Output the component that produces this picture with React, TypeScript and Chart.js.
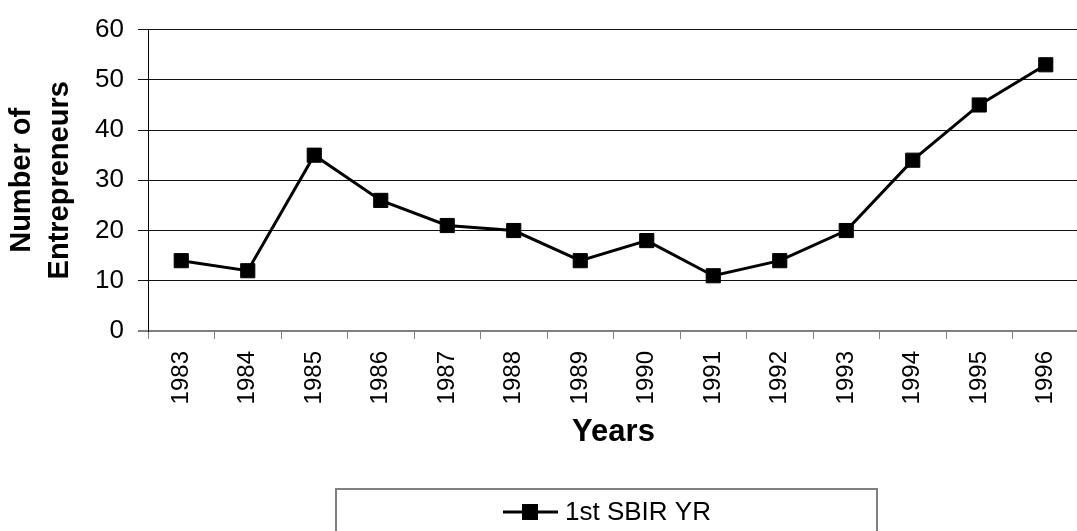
import React, { useEffect, useRef } from "react";
import { Chart, registerables } from "chart.js";

Chart.register(...registerables);

const categories = ["1983", "1984", "1985", "1986", "1987", "1988", "1989", "1990", "1991", "1992", "1993", "1994", "1995", "1996"];
const entrepreneurs = [14, 12, 35, 26, 21, 20, 14, 18, 11, 14, 20, 34, 45, 53];
const seriesLabel = "1st SBIR YR";
const yTitle = ["Number of", "Entrepreneurs"];
const xTitle = "Years";
const yMin = 0;
const yMax = 60;
const yStep = 10;

const FONT = "'Liberation Sans', Arial, Helvetica, sans-serif";

const boxedLegend = {
  id: "boxedLegend",
  afterDraw(chart: any) {
    const ctx = chart.ctx;
    const ds = chart.data.datasets[0];
    ctx.save();
    ctx.strokeStyle = "#808080";
    ctx.lineWidth = 2;
    ctx.strokeRect(336, 489, 541, 80);
    const cy = 512;
    ctx.strokeStyle = ds.borderColor;
    ctx.lineWidth = 3;
    ctx.beginPath();
    ctx.moveTo(503, cy);
    ctx.lineTo(558, cy);
    ctx.stroke();
    ctx.fillStyle = ds.pointBackgroundColor;
    ctx.fillRect(522, cy - 8, 16, 16);
    ctx.fillStyle = "#000";
    ctx.font = `26px ${FONT}`;
    ctx.textAlign = "left";
    ctx.textBaseline = "middle";
    ctx.fillText(ds.label, 565, cy + 1);
    ctx.restore();
  },
};

export default function App() {
  const canvasRef = useRef<HTMLCanvasElement | null>(null);

  useEffect(() => {
    if (!canvasRef.current) return;
    const chart = new Chart(canvasRef.current, {
      type: "line",
      data: {
        labels: categories,
        datasets: [
          {
            label: seriesLabel,
            data: entrepreneurs,
            borderColor: "#000000",
            backgroundColor: "#000000",
            borderWidth: 3,
            pointStyle: "rect",
            pointRadius: 10,
            pointBorderWidth: 1,
            pointBackgroundColor: "#000000",
            pointBorderColor: "#000000",
            tension: 0,
          },
        ],
      },
      options: {
        responsive: false,
        animation: false,
        devicePixelRatio: 1,
        layout: { padding: { left: 0, top: 22, right: 4, bottom: 0 } },
        plugins: {
          legend: { display: false },
          tooltip: { enabled: false },
        },
        scales: {
          x: {
            type: "category",
            offset: true,
            afterFit: (s: any) => {
              s.height = 200;
            },
            grid: {
              offset: true,
              drawOnChartArea: false,
              drawTicks: true,
              tickLength: 8,
              color: "#808080",
              lineWidth: 1,
            },
            border: { display: true, color: "#808080", width: 2 },
            ticks: {
              autoSkip: false,
              minRotation: 90,
              maxRotation: 90,
              padding: 12,
              color: "#000",
              font: { family: FONT, size: 24 },
            },
            title: {
              display: true,
              text: xTitle,
              color: "#000",
              font: { family: FONT, size: 31, weight: "bold" },
              padding: { top: 0, bottom: 80 },
            },
          },
          y: {
            min: yMin,
            max: yMax,
            afterFit: (s: any) => {
              s.width = 148;
            },
            grid: {
              drawOnChartArea: true,
              drawTicks: true,
              tickLength: 10,
              color: (c: any) => (c.tick && c.tick.value === 0 ? "#808080" : "#111111"),
              lineWidth: (c: any) => (c.tick && c.tick.value === 0 ? 2 : 1),
            },
            border: { display: true, color: "#000000", width: 1 },
            ticks: {
              stepSize: yStep,
              padding: 14,
              color: "#000",
              font: { family: FONT, size: 26 },
            },
            title: {
              display: true,
              text: yTitle,
              color: "#000",
              font: { family: FONT, size: 29, weight: "bold", lineHeight: 1.3 },
              padding: { top: 3, bottom: 0 },
            },
          },
        },
      },
      plugins: [boxedLegend],
    });
    return () => chart.destroy();
  }, []);

  return (
    <div style={{ position: "absolute", left: 0, top: 0, width: 1077, height: 531, overflow: "hidden", background: "#fff" }}>
      <canvas ref={canvasRef} width={1090} height={531} style={{ display: "block" }} />
    </div>
  );
}
